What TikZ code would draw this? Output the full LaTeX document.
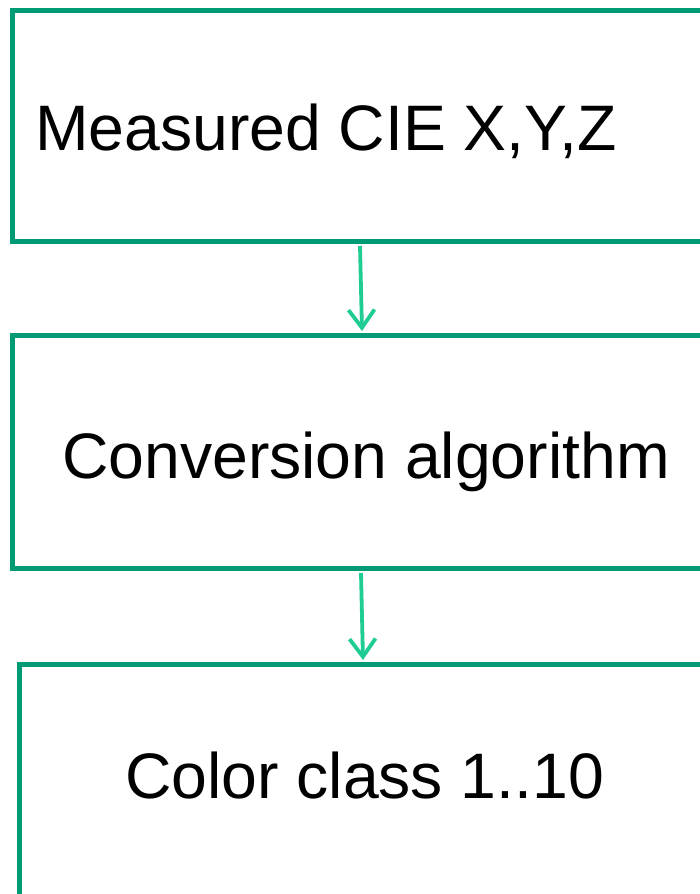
\documentclass[tikz,border=0pt]{standalone}
\usepackage{fontspec}
\setmainfont{Liberation Sans}
\usetikzlibrary{arrows.meta}
\definecolor{boxgreen}{HTML}{009A75}
\definecolor{arrgreen}{HTML}{1ECC94}
\tikzset{
  box/.style={draw=boxgreen, line width=5pt, rectangle, inner sep=0pt},
  lbl/.style={font=\fontsize{64.3}{77}\selectfont, inner sep=0pt, anchor=base west, text=black},
  arr/.style={draw=arrgreen, line width=3.8pt, -{Straight Barb[length=18pt,width=26pt,line width=3.8pt]}}
}
\begin{document}
\begin{tikzpicture}[x=1pt,y=-1pt]
\useasboundingbox (0,0) rectangle (700,894);
\clip (0,0) rectangle (700,894);
\fill[white] (0,0) rectangle (700,894);
\node[box, minimum width=700pt, minimum height=231pt] (b1) at (362,125.5) {};
\node[box, minimum width=700pt, minimum height=233pt] (b2) at (362,451.5) {};
\node[box, minimum width=700pt, minimum height=260pt] (b3) at (369,794) {};
\node[lbl] (t1) at (35,150) {Measured CIE X,Y,Z};
\node[lbl] (t2) at (62,478) {Conversion algorithm};
\node[lbl] (t3) at (125,798) {Color class 1..10};
\draw[arr] ([xshift=-2pt,yshift=-2.5pt]b1.south) -- ([yshift=1.5pt]b2.north);
\draw[arr] ([xshift=-1pt,yshift=-2.5pt]b2.south) -- ([xshift=-6pt,yshift=1.5pt]b3.north);
\end{tikzpicture}
\end{document}
